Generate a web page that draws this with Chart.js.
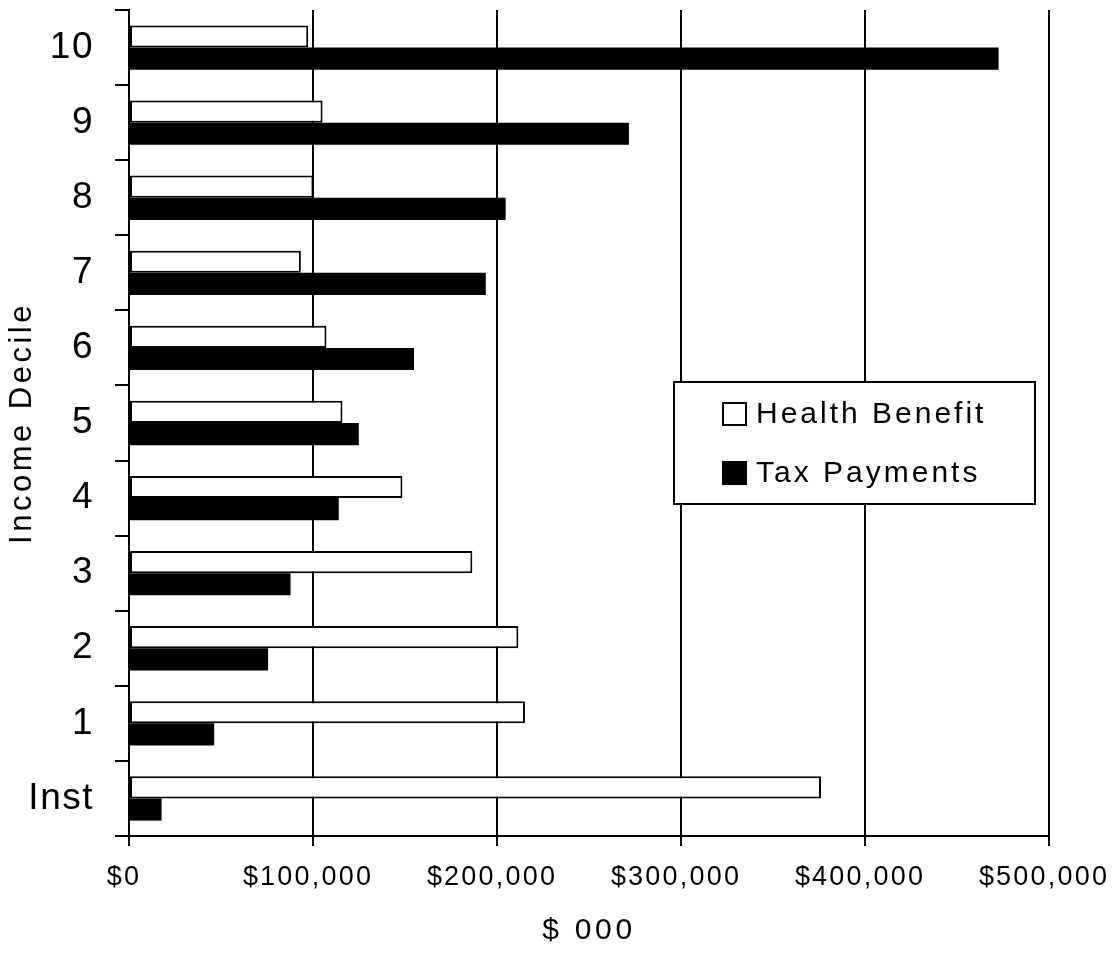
<!DOCTYPE html>
<html>
<head>
<meta charset="utf-8">
<title>Health Benefit and Tax Payments by Income Decile</title>
<script src="https://cdn.jsdelivr.net/npm/chart.js@4.4.1/dist/chart.umd.min.js"></script>
<style>
  html, body { margin: 0; padding: 0; background: #fff; }
  canvas { display: block; }
</style>
</head>
<body>
<canvas id="decileChart" width="1119" height="954"></canvas>
<script>
// Income deciles, bottom to top ("Inst" = institutional population)
const deciles = ['Inst', '1', '2', '3', '4', '5', '6', '7', '8', '9', '10'];
const healthBenefit = [376100, 215200, 211600, 186600, 148600, 116000, 107300, 93400, 100200, 105200, 97400];
const taxPayments = [17700, 46300, 75600, 87800, 114000, 124900, 154900, 193900, 204700, 271700, 472600];
const xTickValues = [0, 100000, 200000, 300000, 400000, 500000];

const FONT = '"Liberation Sans", Arial, Helvetica, sans-serif';

// extra letter spacing (px) for axis text
const TEXT_SPACING = {
  x: { ticks: 2.2, title: 3.7 },
  y: { ticks: 1.5, title: 3.5 }
};

function wrapSpacing(scale, method, px) {
  const orig = scale[method];
  scale[method] = function (...args) {
    const ctx = this.ctx;
    const prev = ctx.letterSpacing;
    ctx.letterSpacing = px + 'px';
    orig.apply(this, args);
    ctx.letterSpacing = prev;
  };
}

const spacedText = {
  id: 'spacedText',
  afterUpdate(chart) {
    Object.entries(chart.scales).forEach(([id, scale]) => {
      const sp = TEXT_SPACING[id];
      if (!sp || scale._spacedText) return;
      scale._spacedText = true;
      wrapSpacing(scale, 'drawLabels', sp.ticks);
      wrapSpacing(scale, 'drawTitle', sp.title);
    });
  }
};

// boxed legend sitting inside the plot, right of centre
const legendBox = {
  id: 'legendBox',
  afterDraw(chart) {
    const ctx = chart.ctx;
    const bx = 674, by = 382, bw = 361, bh = 122;
    ctx.save();
    ctx.fillStyle = '#fff';
    ctx.fillRect(bx, by, bw, bh);
    ctx.strokeStyle = '#000';
    ctx.lineWidth = 2;
    ctx.strokeRect(bx, by, bw, bh);

    ctx.font = '30px ' + FONT;
    ctx.letterSpacing = '3px';
    ctx.textBaseline = 'middle';
    ctx.textAlign = 'left';
    chart.data.datasets.forEach((ds, i) => {
      const cy = by + 32 + i * 59;
      ctx.fillStyle = ds.backgroundColor;
      ctx.fillRect(723, cy - 11, 23, 22);
      ctx.strokeStyle = '#000';
      ctx.lineWidth = 2;
      ctx.strokeRect(723, cy - 11, 23, 22);
      ctx.fillStyle = '#000';
      ctx.fillText(ds.label, 756, cy + 1);
    });
    ctx.restore();
  }
};

document.addEventListener('DOMContentLoaded', function () {
  const ctx = document.getElementById('decileChart').getContext('2d');

  const data = {
    labels: deciles,
    datasets: [{
      label: 'Health Benefit',
      data: healthBenefit,
      backgroundColor: '#ffffff',
      borderColor: '#000000',
      borderWidth: 2,
      borderSkipped: false
    }, {
      label: 'Tax Payments',
      data: taxPayments,
      backgroundColor: '#000000',
      borderWidth: 0
    }]
  };

  const config = {
    type: 'bar',
    data: data,
    options: {
      indexAxis: 'y',
      responsive: false,
      animation: false,
      categoryPercentage: 0.59,
      barPercentage: 1.0,
      layout: {
        padding: { top: 10, right: 70, bottom: 0, left: 0 }
      },
      plugins: {
        legend: { display: false },
        tooltip: { enabled: false }
      },
      scales: {
        x: {
          type: 'linear',
          min: 0,
          max: 500000,
          afterFit: s => {
            s.height = 118;
            s.paddingLeft = 0;
            s.paddingRight = 0;
          },
          afterBuildTicks: s => { s.ticks = xTickValues.map(v => ({ value: v })); },
          grid: { color: '#000', lineWidth: 2, tickLength: 10 },
          border: { display: true, color: '#000', width: 2 },
          ticks: {
            color: '#000',
            font: { family: FONT, size: 27 },
            padding: 15,
            labelOffset: -5,
            maxRotation: 0,
            autoSkip: false,
            callback: v => '$' + Number(v).toLocaleString('en-US')
          },
          title: {
            display: true,
            text: '$ 000',
            color: '#000',
            font: { family: FONT, size: 30 },
            padding: { top: 0, bottom: 5 }
          }
        },
        y: {
          type: 'category',
          reverse: true,
          afterFit: s => {
            s.width = 129;
            s.paddingTop = 0;
            s.paddingBottom = 0;
          },
          grid: {
            offset: true,
            drawOnChartArea: false,
            color: '#000',
            lineWidth: 2,
            tickLength: 14
          },
          border: { display: true, color: '#000', width: 2 },
          ticks: {
            color: '#000',
            font: { family: FONT, size: 37 },
            padding: 21
          },
          title: {
            display: true,
            text: 'Income Decile',
            color: '#000',
            font: { family: FONT, size: 31 },
            padding: { top: 4, bottom: 0 }
          }
        }
      }
    },
    plugins: [spacedText, legendBox]
  };

  new Chart(ctx, config);
});
</script>
</body>
</html>
